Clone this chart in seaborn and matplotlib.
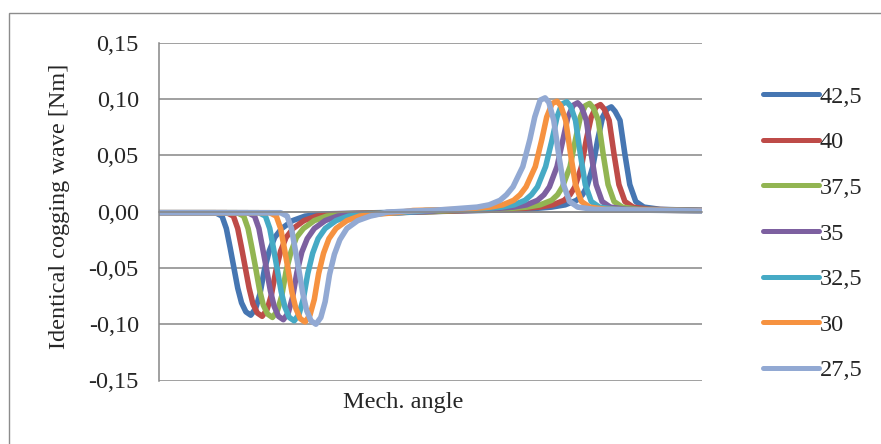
import pandas as pd
import matplotlib
matplotlib.use("Agg")
from matplotlib import pyplot as plt
from matplotlib.lines import Line2D
from matplotlib.patches import Rectangle
import seaborn as sns

sns.set_style("white")
plt.rcParams['font.family'] = ['Liberation Serif', 'DejaVu Serif']

# series names (as in legend) and Excel-like colours
labels = ["42,5", "40", "37,5", "35", "32,5", "30", "27,5"]
colors = ["#4676B2", "#BE4B48", "#92B552", "#7D60A0", "#46AAC5", "#F69240", "#92A9D3"]

# values (x = mech. angle in % of the shown range)
angle_425 = [0, 10.4, 11.6, 12.4, 13.1, 13.8, 14.5, 15.2, 16.0, 16.9, 17.8, 18.6, 19.4, 20.3, 21.3, 22.6, 24.6, 26.9, 30.9, 40,
             50, 59.3, 67.3, 72.3, 74.8, 76.9, 78.0, 78.8, 79.9, 80.8, 81.7, 82.5, 83.3, 84.0, 84.9, 85.8, 86.7, 87.8, 89.3, 92.3, 100]
wave_425 = [-0.001, -0.001, -0.004, -0.015, -0.032, -0.050, -0.068, -0.081, -0.089, -0.092, -0.086, -0.073, -0.052, -0.035, -0.023, -0.015, -0.008, -0.004, -0.002, -0.001,
            0.000, 0.001, 0.002, 0.004, 0.006, 0.010, 0.015, 0.022, 0.040, 0.064, 0.084, 0.091, 0.093, 0.089, 0.081, 0.051, 0.024, 0.009, 0.004, 0.002, 0.001]

angle_40 = [0, 12.5, 13.7, 14.5, 15.2, 15.9, 16.6, 17.3, 18.1, 19.0, 19.9, 20.7, 21.5, 22.4, 23.4, 24.7, 26.7, 29.0, 33.0, 42,
            50, 56.8, 65.0, 70.0, 72.5, 74.6, 75.7, 76.6, 77.8, 78.7, 79.6, 80.5, 81.3, 82.0, 82.9, 83.8, 84.7, 85.8, 87.3, 90.3, 100]
wave_40 = [-0.001, -0.001, -0.004, -0.015, -0.032, -0.050, -0.068, -0.082, -0.090, -0.093, -0.087, -0.074, -0.053, -0.035, -0.023, -0.015, -0.008, -0.004, -0.002, -0.001,
           0.000, 0.001, 0.002, 0.004, 0.006, 0.010, 0.015, 0.022, 0.040, 0.064, 0.084, 0.093, 0.095, 0.091, 0.081, 0.051, 0.024, 0.009, 0.004, 0.002, 0.001]

angle_375 = [0, 14.4, 15.6, 16.4, 17.1, 17.8, 18.5, 19.2, 20.0, 20.9, 21.8, 22.6, 23.4, 24.3, 25.3, 26.6, 28.6, 30.9, 34.9, 43,
             50, 54.3, 62.6, 67.8, 70.2, 72.3, 73.4, 74.3, 75.7, 76.7, 77.6, 78.5, 79.3, 80.0, 80.9, 81.8, 82.7, 83.8, 85.3, 88.3, 100]
wave_375 = [-0.001, -0.001, -0.004, -0.015, -0.032, -0.050, -0.069, -0.083, -0.091, -0.094, -0.088, -0.075, -0.053, -0.036, -0.023, -0.015, -0.008, -0.004, -0.002, -0.001,
            0.000, 0.001, 0.002, 0.004, 0.006, 0.010, 0.015, 0.022, 0.040, 0.064, 0.084, 0.094, 0.096, 0.092, 0.081, 0.051, 0.024, 0.009, 0.004, 0.002, 0.001]

angle_35 = [0, 16.4, 17.6, 18.4, 19.1, 19.8, 20.5, 21.2, 22.0, 22.9, 23.8, 24.6, 25.4, 26.3, 27.3, 28.6, 30.6, 32.9, 36.9, 44,
            49, 51.6, 60.1, 65.3, 67.7, 69.7, 70.9, 71.9, 73.3, 74.4, 75.3, 76.3, 77.1, 77.8, 78.7, 79.6, 80.5, 81.6, 83.1, 86.1, 100]
wave_35 = [-0.001, -0.001, -0.004, -0.015, -0.033, -0.051, -0.070, -0.084, -0.093, -0.096, -0.090, -0.076, -0.054, -0.036, -0.024, -0.015, -0.008, -0.004, -0.002, -0.001,
           0.000, 0.001, 0.002, 0.004, 0.006, 0.010, 0.015, 0.022, 0.040, 0.064, 0.084, 0.0945, 0.0966, 0.093, 0.081, 0.051, 0.024, 0.009, 0.004, 0.002, 0.001]

angle_325 = [0, 18.4, 19.6, 20.4, 21.1, 21.8, 22.5, 23.2, 24.0, 24.9, 25.8, 26.6, 27.4, 28.3, 29.3, 30.6, 32.6, 34.9, 38.9, 44,
             47, 49.1, 57.8, 63.1, 65.4, 67.4, 68.6, 69.7, 71.2, 72.4, 73.3, 74.2, 75.1, 75.8, 76.7, 77.6, 78.5, 79.6, 81.1, 84.1, 100]
wave_325 = [-0.001, -0.001, -0.004, -0.015, -0.033, -0.052, -0.071, -0.085, -0.094, -0.097, -0.091, -0.077, -0.055, -0.037, -0.024, -0.015, -0.008, -0.004, -0.002, -0.001,
            0.000, 0.001, 0.002, 0.004, 0.006, 0.010, 0.015, 0.022, 0.040, 0.064, 0.084, 0.0955, 0.0975, 0.0935, 0.081, 0.051, 0.024, 0.009, 0.004, 0.002, 0.0008]

angle_30 = [0, 20.4, 21.6, 22.4, 23.1, 23.8, 24.5, 25.2, 26.0, 26.9, 27.8, 28.6, 29.4, 30.3, 31.3, 32.6, 34.6, 36.9, 40.9, 43.5,
            45.3, 46.8, 55.6, 61.0, 63.3, 65.3, 66.5, 67.6, 69.3, 70.5, 71.4, 72.4, 73.3, 74.0, 74.9, 75.8, 76.7, 77.8, 79.3, 82.3, 100]
wave_30 = [-0.001, -0.001, -0.004, -0.015, -0.033, -0.052, -0.072, -0.086, -0.095, -0.098, -0.092, -0.078, -0.055, -0.037, -0.024, -0.015, -0.008, -0.004, -0.002, -0.001,
           0.000, 0.001, 0.002, 0.004, 0.006, 0.010, 0.015, 0.022, 0.040, 0.064, 0.084, 0.096, 0.098, 0.094, 0.081, 0.051, 0.024, 0.009, 0.004, 0.002, 0.0007]

angle_275 = [0, 22.4, 23.6, 24.4, 25.1, 25.8, 26.5, 27.2, 28.0, 28.9, 29.8, 30.6, 31.4, 32.3, 33.3, 34.6, 36.6, 38.9, 40.8, 42.0,
             46.0, 50.0, 53.1, 58.6, 60.8, 62.8, 64.0, 65.2, 67.0, 68.3, 69.2, 70.2, 71.1, 71.8, 72.7, 73.6, 74.5, 75.6, 77.1, 80.1, 100]
wave_275 = [-0.001, -0.001, -0.004, -0.015, -0.034, -0.053, -0.073, -0.088, -0.097, -0.100, -0.094, -0.080, -0.056, -0.038, -0.025, -0.015, -0.008, -0.004, -0.002, -0.0005,
            0.0005, 0.001, 0.002, 0.004, 0.006, 0.010, 0.015, 0.022, 0.040, 0.064, 0.084, 0.099, 0.101, 0.097, 0.081, 0.051, 0.024, 0.009, 0.004, 0.002, 0.0005]

angles = [angle_425, angle_40, angle_375, angle_35, angle_325, angle_30, angle_275]
waves = [wave_425, wave_40, wave_375, wave_35, wave_325, wave_30, wave_275]

y_ticks = [-0.15, -0.10, -0.05, 0.0, 0.05, 0.10, 0.15]
y_ticklabels = ["-0,15", "-0,10", "-0,05", "0,00", "0,05", "0,10", "0,15"]

frames = []
for lab, xs, ys in zip(labels, angles, waves):
    frames.append(pd.DataFrame({"angle": xs, "wave": ys, "series": lab}))
df = pd.concat(frames, ignore_index=True)

W, H = 881, 444
FS = 17.5
fig = plt.figure(figsize=(W / 100, H / 100), dpi=100)
# outer chart border like excel (right and bottom edges fall outside the image)
fig.patches.append(Rectangle((8.5 / W, -0.1), 2, 1.1 - 12.7 / H, transform=fig.transFigure,
                             fill=False, edgecolor="#8C8C8C", linewidth=1.0))

ax = fig.add_axes([159 / W, 1 - 380.5 / H, (702 - 159) / W, (380.5 - 42.7) / H])
sns.lineplot(data=df, x="angle", y="wave", hue="series", hue_order=labels, palette=colors,
             estimator=None, sort=False, legend=False, ax=ax)
for ln in ax.lines:
    ln.set_linewidth(4.0)
    ln.set_solid_capstyle("round")
    ln.set_solid_joinstyle("round")

ax.set_xlim(0, 100)
ax.set_ylim(-0.15, 0.15)
ax.set_yticks(y_ticks)
ax.set_yticklabels(y_ticklabels)
ax.set_xticks([100 / 3, 200 / 3])
ax.tick_params(axis="x", direction="out", length=4.5, color="#868686", width=1.1, labelbottom=False)
ax.tick_params(axis="y", direction="out", length=4.5, color="#868686", width=1.1, labelsize=FS, pad=10)
ax.yaxis.grid(True, color="#868686", linewidth=1.1)
ax.xaxis.grid(False)
ax.set_axisbelow(True)
for s in ["top", "right"]:
    ax.spines[s].set_visible(False)
ax.spines["left"].set_color("#868686")
ax.spines["left"].set_linewidth(1.1)
ax.spines["bottom"].set_color("#868686")
ax.spines["bottom"].set_linewidth(1.1)
ax.spines["bottom"].set_position(("data", 0))
ax.set_xlabel("")
ax.set_ylabel("")

fig.text(60 / W, 1 - 206 / H, "Identical cogging wave [Nm]", rotation=90, ha="center", va="center", fontsize=FS)
fig.text(403 / W, 1 - 402 / H, "Mech. angle", ha="center", va="center", fontsize=FS)

handles = [Line2D([0], [0], color=c, linewidth=3.6, solid_capstyle="round") for c in colors]
fig.legend(handles, labels, loc="upper left", bbox_to_anchor=(753 / W, 1 - 76 / H), frameon=False,
           fontsize=FS, handlelength=2.3, handletextpad=0.05, labelspacing=0.97, borderaxespad=0)

fig.savefig("out.png", dpi=100)
